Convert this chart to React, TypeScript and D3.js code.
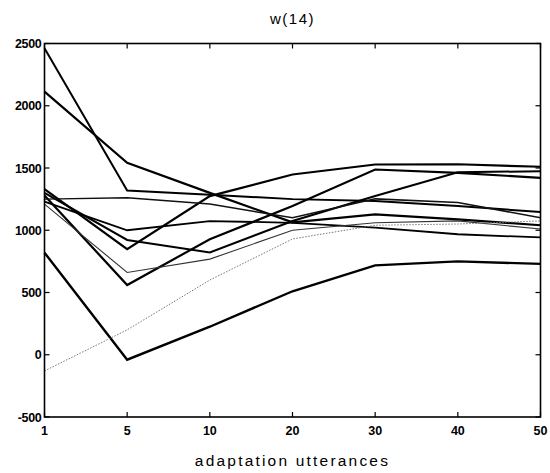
import React from "react";
import * as d3 from "d3";

const xCategories = ["1", "5", "10", "20", "30", "40", "50"];
const yTicks = [-500, 0, 500, 1000, 1500, 2000, 2500];
const title = "w(14)";
const xLabel = "adaptation utterances";

const seriesA = [2462, 1320, 1285, 1250, 1235, 1195, 1146];
const seriesB = [2114, 1541, 1300, 1064, 1128, 1088, 1040];
const seriesC = [1330, 848, 1274, 1448, 1528, 1530, 1510];
const seriesD = [1280, 560, 928, 1194, 1488, 1461, 1421];
const seriesE = [1300, 922, 822, 1074, 1275, 1466, 1474];
const seriesF = [1250, 1262, 1210, 1100, 1252, 1222, 1101];
const seriesG = [1230, 1000, 1074, 1060, 1021, 968, 942];
const seriesH = [1210, 661, 768, 1000, 1060, 1075, 1010];
const seriesI = [820, -40, 225, 510, 718, 750, 730];
const seriesJ = [-130, 200, 600, 930, 1040, 1050, 1075];

const seriesList = [
  { name: "A", values: seriesA, width: 2, dash: "", color: "#000" },
  { name: "B", values: seriesB, width: 2.2, dash: "", color: "#000" },
  { name: "C", values: seriesC, width: 2.2, dash: "", color: "#000" },
  { name: "D", values: seriesD, width: 2.2, dash: "", color: "#000" },
  { name: "E", values: seriesE, width: 2, dash: "", color: "#000" },
  { name: "F", values: seriesF, width: 1.5, dash: "", color: "#111" },
  { name: "G", values: seriesG, width: 1.8, dash: "", color: "#000" },
  { name: "H", values: seriesH, width: 1.1, dash: "", color: "#333" },
  { name: "I", values: seriesI, width: 2.4, dash: "", color: "#000" },
  { name: "J", values: seriesJ, width: 1, dash: "1.5,1.5", color: "#777" },
];

export default function App() {
  const W = 550;
  const H = 473;
  const left = 44.5;
  const right = 540.5;
  const top = 43.5;
  const bottom = 417;

  const x = d3.scalePoint<string>().domain(xCategories).range([left, right]);
  const y = d3.scaleLinear().domain([-500, 2500]).range([bottom, top]);

  const line = d3
    .line<number>()
    .x((_, i) => x(xCategories[i]) as number)
    .y((v) => y(v));

  const tickLen = 5;
  const font = "'Liberation Sans', Arial, Helvetica, sans-serif";

  return (
    <svg
      width={W}
      height={H}
      style={{ position: "absolute", left: 0, top: 0, background: "#fff" }}
    >
      <rect x={0} y={0} width={W} height={H} fill="#fff" />
      {seriesList.map((s) => (
        <path
          key={s.name}
          d={line(s.values) || ""}
          fill="none"
          stroke={s.color}
          strokeWidth={s.width}
          strokeDasharray={s.dash || undefined}
          strokeLinejoin="miter"
        />
      ))}
      <rect
        x={left}
        y={top}
        width={right - left}
        height={bottom - top}
        fill="none"
        stroke="#000"
        strokeWidth={1.6}
      />
      {xCategories.map((c) => {
        const px = x(c) as number;
        return (
          <g key={"x" + c}>
            <line x1={px} x2={px} y1={bottom} y2={bottom - tickLen} stroke="#000" strokeWidth={1.2} />
            <line x1={px} x2={px} y1={top} y2={top + tickLen} stroke="#000" strokeWidth={1.2} />
            <text
              x={px}
              y={435}
              textAnchor="middle"
              fontFamily={font}
              fontWeight="bold"
              fontSize={12.5}
              fill="#000"
            >
              {c}
            </text>
          </g>
        );
      })}
      {yTicks.map((t) => {
        const py = y(t);
        return (
          <g key={"y" + t}>
            <line x1={left} x2={left + tickLen} y1={py} y2={py} stroke="#000" strokeWidth={1.2} />
            <line x1={right} x2={right - tickLen} y1={py} y2={py} stroke="#000" strokeWidth={1.2} />
            <text
              x={left - 3}
              y={py + 4.5}
              textAnchor="end"
              fontFamily={font}
              fontWeight="bold"
              fontSize={12.5}
              letterSpacing={-0.3}
              fill="#000"
            >
              {t}
            </text>
          </g>
        );
      })}
      <text
        x={(left + right) / 2}
        y={24}
        textAnchor="middle"
        fontFamily={font}
        fontSize={15}
        letterSpacing={1.5}
        fill="#000"
      >
        {title}
      </text>
      <text
        x={(left + right) / 2}
        y={466}
        textAnchor="middle"
        fontFamily={font}
        fontSize={15.5}
        letterSpacing={2.2}
        fill="#000"
      >
        {xLabel}
      </text>
    </svg>
  );
}
